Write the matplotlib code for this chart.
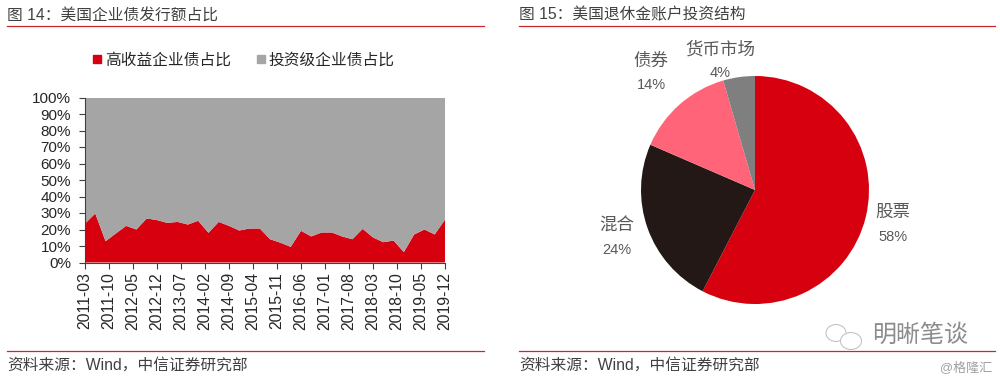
import matplotlib
matplotlib.use('Agg')
import matplotlib.pyplot as plt
from matplotlib.lines import Line2D
from matplotlib.patches import Ellipse

plt.rcParams['font.family'] = ['Liberation Sans', 'Noto Sans CJK SC', 'DejaVu Sans']

#----- left chart, quarterly
high_yield = [23.6, 29.7, 12.9, 17.6, 22.2, 20.0, 26.7, 25.7, 24.0, 24.6, 23.0, 25.3,
              18.0, 24.6, 22.2, 19.4, 20.6, 20.6, 14.1, 12.0, 9.5, 19.2, 15.8, 18.2,
              18.2, 15.8, 14.1, 20.4, 15.2, 12.3, 13.3, 6.3, 17.0, 20.0, 17.0, 26.0]
inv_grade = [100 - v for v in high_yield]
months = [3 * i for i in range(len(high_yield))]
xlabels = ['2011-03', '2011-10', '2012-05', '2012-12', '2013-07', '2014-02', '2014-09', '2015-04',
           '2015-11', '2016-06', '2017-01', '2017-08', '2018-03', '2018-10', '2019-05', '2019-12']
xticks = [7 * i for i in range(len(xlabels))]
yticks = list(range(0, 101, 10))
legend_names = ['高收益企业债占比', '投资级企业债占比']

#----- right chart
pie_names = ['股票', '混合', '债券', '货币市场']
pie_labels = ['58%', '24%', '14%', '4%']
pie_values = [57.6, 23.9, 14.0, 4.5]

W, H = 1000., 381.
RED = '#D7000F'
GREY = '#A5A5A5'
TXT = '#404040'
LBL = '#595959'

fig = plt.figure(figsize=(10, 3.81), dpi=100)

# overlay in pixel coords for headers, rules, watermark
bg = fig.add_axes([0, 0, 1, 1], zorder=5)
bg.set_xlim(0, W)
bg.set_ylim(H, 0)
bg.axis('off')

ax = fig.add_axes([85 / W, 1 - 262.5 / H, 360 / W, 165 / H])
ax.stackplot(months, high_yield, inv_grade, colors=[RED, GREY], linewidth=0)
ax.set_xlim(0, 105)
ax.set_ylim(0, 100)
ax.set_xticks(xticks)
ax.set_xticklabels(xlabels, rotation=90, fontsize=11.3, color='#262626')
ax.set_yticks(yticks)
ax.set_yticklabels(['%d%%' % v for v in yticks], fontsize=11, color='#262626')
ax.tick_params(axis='y', length=4, width=0.8, color='#404040', pad=6)
ax.tick_params(axis='x', length=4, width=0.8, color='#404040', pad=3)
for s in ['top', 'right']:
    ax.spines[s].set_visible(False)
for s in ['left', 'bottom']:
    ax.spines[s].set_color('#404040')
    ax.spines[s].set_linewidth(0.8)

handles = [Line2D([], [], ls='', marker='s', ms=6, color=RED),
           Line2D([], [], ls='', marker='s', ms=6, color=GREY)]
fig.legend(handles, legend_names, ncol=2, frameon=False, fontsize=11.3, labelcolor='#262626',
           loc='center', bbox_to_anchor=(242 / W, 1 - 60 / H),
           handletextpad=0.0, columnspacing=1.4, handlelength=1.0)

# pie
R = 114.
pie = fig.add_axes([(755 - R) / W, 1 - (190 + R) / H, 2 * R / W, 2 * R / H])
pie.pie(pie_values, colors=[RED, '#231815', '#FF6478', '#7F7F7F'], startangle=90, counterclock=False,
        radius=1, wedgeprops={'linewidth': 0})
pie.set_xlim(-1, 1)
pie.set_ylim(-1, 1)

pie_pos = [(893, 212, 237), (617, 226, 250), (651, 61, 85), (720, 49, 73)]
for name, lab, (x, y1, y2) in zip(pie_names, pie_labels, pie_pos):
    bg.text(x, y1, name, fontsize=12.6, color=LBL, ha='center', va='center')
    bg.text(x, y2, lab, fontsize=10.5, color=LBL, ha='center', va='center')

# headers and footers
for x0, x1, title in [(7, 484, '图 14：美国企业债发行额占比'), (519, 995, '图 15：美国退休金账户投资结构')]:
    bg.text(x0, 15, title, fontsize=11.3, color=TXT, ha='left', va='center')
    bg.plot([x0, x1], [25.5, 25.5], color='#C8282D', lw=0.9)
    bg.plot([x0, x1], [351, 351], color='#C8282D', lw=0.9)
    bg.text(x0, 365, '资料来源：Wind，中信证券研究部', fontsize=11.3, color=TXT, ha='left', va='center')

# watermark
bg.add_patch(Ellipse((836, 333), 20, 17, fc='none', ec='#C4C4C4', lw=0.8))
bg.add_patch(Ellipse((851, 341), 21, 17, fc='white', ec='#C4C4C4', lw=0.8))
bg.text(872, 335, '明晰笔谈', fontsize=17.3, color='#8C8C8C', ha='left', va='center')
bg.text(992, 368, '@格隆汇', fontsize=9.4, color='#A0A0A0', ha='right', va='center')

plt.savefig('out.png', dpi=100)
plt.close('all')
